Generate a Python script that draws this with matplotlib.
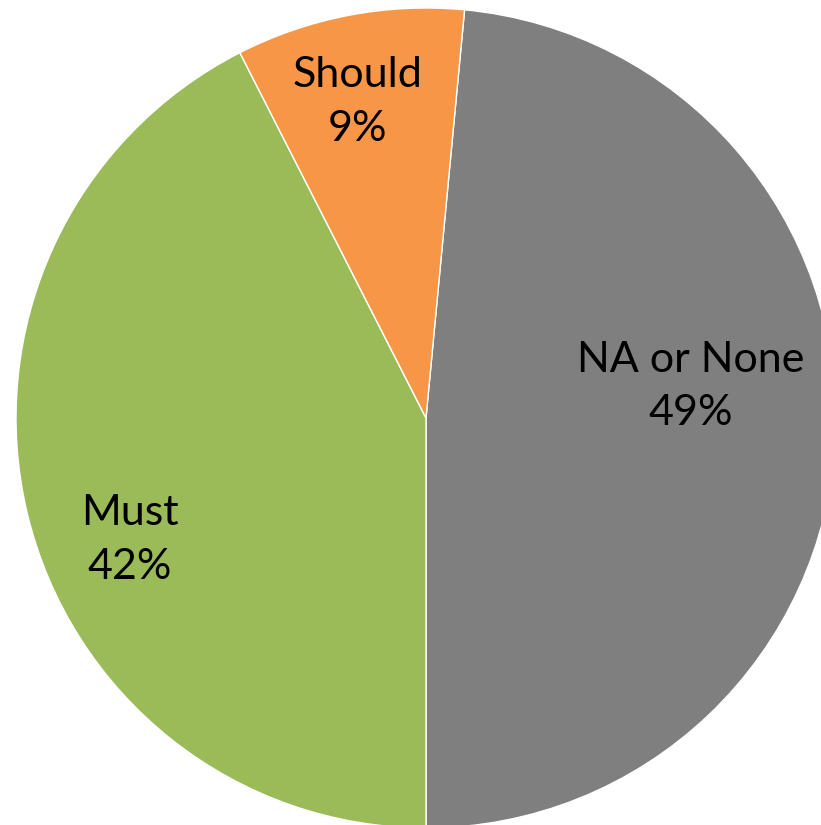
import matplotlib.pyplot as plt

# ==============================
# Data
# ==============================
categories = ["NA or None", "Must", "Should"]
shares = [48.5, 42.5, 9.0]
pct_labels = ["49%", "42%", "9%"]
colors = ["#7F7F7F", "#9BBB59", "#F79646"]

# label centres (in pie-radius units)
label_pos = [(0.645, 0.077), (-0.722, -0.298), (-0.167, 0.771)]

# ==============================
# Plot
# ==============================
plt.rcParams["font.family"] = ["Lato", "DejaVu Sans"]

fig = plt.figure(figsize=(8.21, 8.25), dpi=100)
ax = fig.add_axes([0, 0, 1, 1])

ax.pie(shares, colors=colors, startangle=84.6, counterclock=False,
       radius=1.0, wedgeprops={"edgecolor": "white", "linewidth": 1})

for name, pct, (x, y) in zip(categories, pct_labels, label_pos):
    ax.text(x, y, name + "\n" + pct, ha="center", va="center",
            fontsize=31, linespacing=1.5, color="black")

# pie centre at pixel (426, 418), radius 410 px
ax.set_aspect("auto")
ax.set_xlim(-426 / 410, (821 - 426) / 410)
ax.set_ylim((418 - 825) / 410, 418 / 410)
ax.axis("off")

fig.savefig("out.png", dpi=100)
